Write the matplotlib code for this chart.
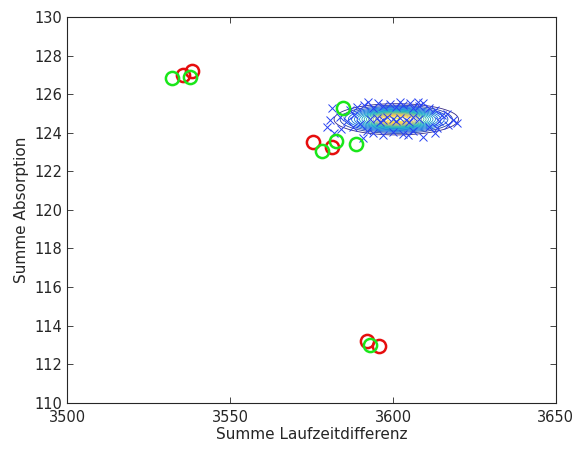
import numpy as np
import matplotlib as mpl
mpl.use('Agg')
import matplotlib.pyplot as plt
from matplotlib.colors import LinearSegmentedColormap

# Data
red_x = [3535.5, 3538.3, 3575.4, 3581.3, 3592.0, 3595.7]
red_y = [127.00, 127.18, 123.52, 123.26, 113.19, 112.94]
green_x = [3532.1, 3537.7, 3578.2, 3582.5, 3588.6, 3584.6, 3592.9]
green_y = [126.85, 126.87, 123.05, 123.57, 123.41, 125.28, 112.99]

blue_x = [3579.6, 3580.7, 3581.2, 3583.7, 3586.8, 3587.8, 3590.9, 3592.4, 3595.4, 3602.2,
          3605.2, 3607.8, 3609.3, 3604.7, 3609.3, 3612.9, 3613.4, 3618.5, 3619.6, 3616.5,
          3589.0, 3591.0, 3594.0, 3597.0, 3599.0, 3601.0, 3603.0, 3606.0, 3608.0, 3611.0,
          3613.0, 3615.0, 3586.0, 3588.0, 3590.0, 3592.0, 3594.0, 3597.0, 3600.0, 3603.0,
          3606.0, 3611.0, 3614.0, 3617.0, 3584.0, 3582.0, 3593.0, 3595.0, 3597.0, 3598.0,
          3600.0, 3602.0, 3604.0, 3606.0, 3608.0, 3596.0, 3601.0, 3605.0]
blue_y = [124.31, 124.66, 125.26, 124.83, 125.18, 124.31, 123.71, 125.61, 125.54, 125.61,
          125.52, 125.61, 125.54, 123.88, 123.79, 123.97, 124.23, 124.66, 124.49, 125.00,
          125.35, 125.45, 125.30, 125.40, 125.50, 125.35, 125.45, 125.30, 125.40, 125.30,
          125.20, 124.90, 124.60, 124.90, 124.45, 124.10, 124.00, 123.90, 124.05, 123.95,
          124.10, 124.30, 124.60, 124.40, 124.20, 124.00, 124.70, 124.75, 124.65, 124.80,
          124.70, 124.75, 124.65, 124.80, 124.70, 124.55, 124.60, 124.55]

# fitted gaussian
gauss_mean = [3601.0, 124.7]
gauss_sd = [8.5, 0.36]

# parula-like colormap
parula = LinearSegmentedColormap.from_list("parula", [
    (0.208, 0.166, 0.529), (0.012, 0.388, 0.882), (0.078, 0.504, 0.838),
    (0.024, 0.640, 0.788), (0.196, 0.718, 0.631), (0.637, 0.741, 0.458),
    (0.975, 0.749, 0.234), (0.977, 0.983, 0.081)])

plt.rcParams['font.family'] = 'DejaVu Sans'
fig = plt.figure(figsize=(5.76, 4.5), dpi=100, facecolor='w')
ax = fig.add_axes([0.117, 0.105, 0.848, 0.857])

# contour of the gaussian
gx = np.linspace(3570, 3630, 400)
gy = np.linspace(122.5, 127, 400)
GX, GY = np.meshgrid(gx, gy)
Z = np.exp(-0.5 * (((GX - gauss_mean[0]) / gauss_sd[0]) ** 2 + ((GY - gauss_mean[1]) / gauss_sd[1]) ** 2))
levels = np.linspace(0.08, 0.99, 20)
ax.contour(GX, GY, Z, levels=levels, cmap=parula, linewidths=0.6, zorder=2)

ax.plot(blue_x, blue_y, 'x', color=(0.15, 0.25, 0.95), ms=6, mew=0.7, zorder=3)
ax.plot(red_x, red_y, 'o', mfc='none', mec=(0.9, 0.05, 0.05), ms=9.5, mew=1.8, zorder=4)
ax.plot(green_x, green_y, 'o', mfc='none', mec=(0.1, 0.9, 0.1), ms=9.5, mew=1.8, zorder=5)

ax.set_xlim(3500, 3650)
ax.set_ylim(110, 130)
ax.set_xticks([3500, 3550, 3600, 3650])
ax.set_yticks(np.arange(110, 131, 2))
ax.tick_params(direction='in', top=True, right=True, labelsize=10.5, colors='#262626',
               length=4, width=0.6)
ax.tick_params(axis='x', pad=5)
for s in ax.spines.values():
    s.set_color('#262626')
    s.set_linewidth(0.8)
ax.set_xlabel('Summe Laufzeitdifferenz', fontsize=11, color='#262626', labelpad=2)
ax.set_ylabel('Summe Absorption', fontsize=11, color='#262626', labelpad=4)

plt.savefig('out.png', dpi=100)
